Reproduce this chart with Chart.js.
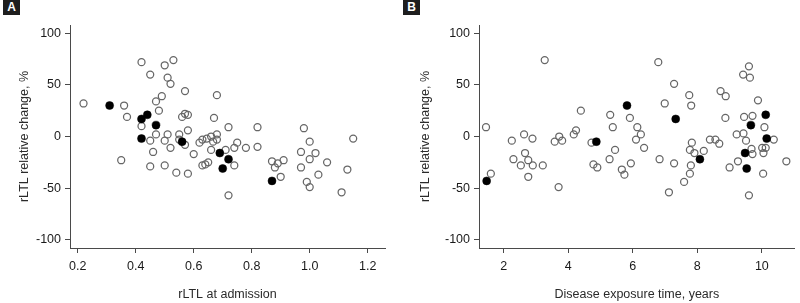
<!DOCTYPE html>
<html>
<head>
<meta charset="utf-8">
<script src="https://cdn.jsdelivr.net/npm/chart.js@4/dist/chart.umd.min.js"></script>
<style>
  html, body { margin:0; padding:0; background:#fff; }
  #wrap { position:relative; width:800px; height:303px; overflow:hidden; }
  .panel { position:absolute; top:0; width:400px; height:303px; }
  .tag { position:absolute; top:0; width:17px; height:15px; background:#1e1e1e; color:#fff;
         font:bold 12px "Liberation Sans", Arial, sans-serif; text-align:center; line-height:15px; }
</style>
</head>
<body>
<div id="wrap">
  <div class="panel" style="left:0"><canvas id="cA" width="400" height="303"></canvas></div>
  <div class="panel" style="left:400px"><canvas id="cB" width="400" height="303"></canvas></div>
  <div class="tag" style="left:3px">A</div>
  <div class="tag" style="left:403px">B</div>
</div>
<script>
// ---- Data ----
// Panel A: rLTL at admission vs rLTL relative change (%)
const aOpenX = [0.22,0.36,0.37,0.35,0.42,0.45,0.50,0.53,0.51,0.52,0.57,0.49,0.47,0.48,0.68,0.56,0.57,0.58,0.67,0.42,0.72,0.82,0.98,0.58,0.47,0.51,0.55,0.68,0.45,0.50,0.52,0.46,0.55,0.57,0.62,0.63,0.645,0.66,0.667,0.68,0.60,0.66,0.75,0.74,0.78,0.82,0.71,0.50,0.45,0.54,0.58,0.63,0.64,0.65,0.74,0.72,0.87,0.89,0.88,0.91,0.90,0.97,1.00,1.02,1.00,0.97,1.03,1.06,0.99,1.00,1.11,1.13,1.15];
const aOpenY = [32,30,19,-23,72,60,69,74,57,51,44,39,34,25,40,19,22,21,18,10,9,9,8,6,2,2,2,2,-4,-4,-11,-15,-3,-8,-6,-3,-2,0,-5,-3,-17,-13,-6,-11,-11,-10,-13,-28,-29,-35,-36,-28,-27,-25,-28,-57,-24,-26,-30,-23,-39,-15,-5,-16,-22,-30,-37,-25,-44,-49,-54,-32,-2];
const aFilledX = [0.31,0.42,0.44,0.47,0.42,0.56,0.69,0.72,0.70,0.87];
// Panel B: disease exposure time (years) vs rLTL relative change (%)
const bOpenX = [1.45,1.60,2.25,2.30,2.63,2.66,2.76,2.53,2.76,2.89,2.90,3.21,3.27,3.58,3.72,3.81,3.70,4.17,4.24,4.39,4.72,4.78,4.90,5.30,5.38,5.45,5.28,5.66,5.74,5.91,5.94,6.14,6.10,6.25,6.35,6.79,6.83,6.99,7.12,7.28,7.28,7.75,7.81,7.83,7.77,7.91,7.80,7.77,7.59,8.20,8.39,8.56,8.68,8.72,8.88,8.87,9.00,9.22,9.26,9.42,9.60,9.63,9.45,9.43,9.51,9.71,9.68,9.71,9.60,9.88,10.08,10.01,10.05,10.12,10.04,10.37,10.76];
const bOpenY = [9,-36,-4,-22,2,-16,-23,-28,-39,-2,-28,-28,74,-5,0,-4,-49,2,6,25,-6,-27,-30,21,9,-13,-22,-32,-37,18,-26,9,-3,2,-11,72,-22,32,-54,51,-26,40,30,-6,-13,-16,-28,-36,-44,-14,-3,-3,-7,44,39,18,-30,2,-24,60,68,57,19,3,-4,20,-12,-17,-57,35,9,-11,-16,-11,-36,-3,-24];
const bFilledX = [5.82,7.33,10.12,9.66,10.15,4.87,9.48,8.08,9.53,1.47];
// Filled (highlighted) patients share the same relative change in both panels
const filledY = [30,17,21,11,-2,-5,-16,-22,-31,-43];

const yTicks = [-100,-50,0,50,100];
const aXTicks = [0.2,0.4,0.6,0.8,1.0,1.2];
const bXTicks = [2,4,6,8,10];

const yTitle = 'rLTL relative change, %';
const aXTitle = 'rLTL at admission';
const bXTitle = 'Disease exposure time, years';

// ---- Chart construction ----
const FONT = '"Liberation Sans", Arial, sans-serif';
const AXIS = '#4a4a4a';
const TXT = '#1a1a1a';

function pts(xs, ys) { return xs.map((x, i) => ({x: x, y: ys[i]})); }

function makeChart(id, cfg) {
  new Chart(document.getElementById(id), {
    type: 'scatter',
    data: {
      datasets: [
        { data: pts(cfg.filledX, filledY), pointRadius: 4, pointBackgroundColor: '#000',
          pointBorderColor: '#000', pointBorderWidth: 0.5 },
        { data: pts(cfg.openX, cfg.openY), pointRadius: 3.5, pointBackgroundColor: 'rgba(255,255,255,0)',
          pointBorderColor: '#666', pointBorderWidth: 1.25 }
      ]
    },
    options: {
      responsive: false, animation: false, devicePixelRatio: 1,
      events: [],
      plugins: { legend: { display: false }, tooltip: { enabled: false } },
      layout: { padding: { left: 0, top: 25, right: cfg.padRight, bottom: 0 } },
      scales: {
        x: {
          type: 'linear', min: cfg.xMin, max: cfg.xMax,
          afterBuildTicks: s => { s.ticks = cfg.xTicks.map(v => ({ value: v })); },
          afterFit: s => { s.height = 55; },
          ticks: { callback: cfg.xFmt, font: { family: FONT, size: 12.5 }, color: TXT, padding: 6,
                   maxRotation: 0, autoSkip: false },
          grid: { drawOnChartArea: false, drawTicks: true, tickLength: 5, color: AXIS, lineWidth: 1 },
          border: { display: true, color: AXIS, width: 1 },
          title: { display: true, text: cfg.xTitle, font: { family: FONT, size: 12.5 }, color: '#2a2a2a',
                   padding: { top: 0, bottom: 0.5 } }
        },
        y: {
          type: 'linear', min: -108, max: 108,
          afterBuildTicks: s => { s.ticks = yTicks.map(v => ({ value: v })); },
          afterFit: s => { s.width = cfg.yWidth; },
          ticks: { font: { family: FONT, size: 12.5 }, color: TXT, padding: 4, autoSkip: false },
          grid: { drawOnChartArea: false, drawTicks: true, tickLength: 5, color: AXIS, lineWidth: 1 },
          border: { display: true, color: AXIS, width: 1 },
          title: { display: true, text: yTitle, font: { family: FONT, size: 12.5 }, color: '#2a2a2a',
                   padding: { top: cfg.yTitlePad, bottom: 0 } }
        }
      }
    }
  });
}

makeChart('cA', { openX: aOpenX, openY: aOpenY, filledX: aFilledX, xMin: 0.1734, xMax: 1.2597,
  xTicks: aXTicks, xFmt: v => Number(v).toFixed(1), xTitle: aXTitle, yWidth: 70, padRight: 15, yTitlePad: 17.5 });
makeChart('cB', { openX: bOpenX, openY: bOpenY, filledX: bFilledX, xMin: 1.233, xMax: 11.02,
  xTicks: bXTicks, xFmt: v => String(v), xTitle: bXTitle, yWidth: 79, padRight: 2, yTitlePad: 18.5 });
</script>
</body>
</html>
